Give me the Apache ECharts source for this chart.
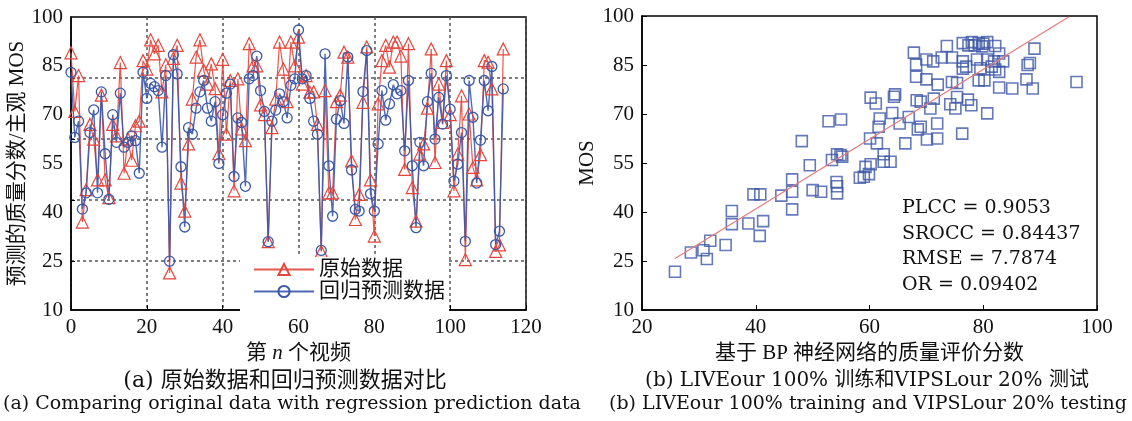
<!DOCTYPE html>
<html><head><meta charset="utf-8">
<script src="https://cdn.jsdelivr.net/npm/echarts@6/dist/echarts.min.js"></script>
<style>html,body{margin:0;padding:0;background:#fff}#c{width:1132px;height:421px}</style>
</head><body><div id="c"></div>
<script>
// ---- Left chart data (index = array position) ----
const originalMOS = [89,71,82,37,47,67,62.5,50,76,50,44.5,67,63.5,86,52,62.5,56,66.6,68,86.6,
84,93,88.7,91.3,77,85.3,21.4,87.3,91.3,49,40.4,61,74.8,87.7,93,83.6,79.4,85.6,78,58,
87,64,80.5,46.6,81,65.6,62,91.8,85,85,73,70,31,66,74.8,92.3,84,74,92.3,85,
93.8,79.4,82,76.9,77,67,28,77.4,46,46,74,76,89.2,87.7,55.8,37.8,45.5,73.8,90.8,50,
32.7,73.3,86.6,91.3,84.6,92.3,92.3,88,53.2,91.8,47.6,37.3,57.9,61,72,90.2,55.3,79.4,67.6,86.6,
70,46.6,57.9,75.8,25.5,70.2,53.8,50,57.7,86.6,86.1,77.9,28,30,90.2];
const predictedMOS = [83,63,68,41,46,64.5,71.5,46,77,58,44,70,61.5,76.6,60,61.5,63.5,62,52,83,
75,79.6,78.6,77.4,60,82,25,88.4,82.5,54,35.5,66,64,72,77,80.5,72,68,74,55,
70,76.6,79.4,51,69,67.6,48,81,82,88,77.4,71,31,68,71.4,76.4,74,69,79,81,
96,81,82,75,68,64,28.3,88.7,54.3,38.8,68.6,74.3,67.3,87.7,53,40.9,40.4,77.1,89.7,45.7,
40.4,61,77.4,68.3,73.3,79.2,76.4,77.4,58.9,80.5,54.3,35.3,61.5,54.3,74,82.7,62.5,75.3,67.1,82,
71.7,49.6,54.8,64.5,31.1,80.5,69.2,49,62.2,80.5,71.2,84.8,30.1,34.2,77.9];
const leftYTicks = [10,25,40,55,70,85,100];
const leftInnerTicks = [25,43.75,62.5,81.25];

// ---- Right chart data ----
const bpScore = [25.8,28.6,30.8,31.4,32.0,34.7,35.8,35.8,38.7,39.6,40.8,40.7,41.3,44.5,46.4,46.4,46.4,49.5,50.0,51.5,
53.4,54.2,54.3,54.3,58.3,54.9,54.3,48.1,52.8,55.0,55.2,59.3,62.5,63.7,62.5,59.0,59.9,60.2,60.1,61.3,
66.3,70.1,71.9,76.3,69.0,68.5,61.8,61.6,65.3,64.0,66.9,71.9,70.7,74.2,75.1,75.4,77.3,77.9,80.7,60.2,
61.1,64.5,64.3,68.3,69.0,71.3,67.8,68.2,68.2,70.0,71.2,70.0,72.0,72.7,73.6,74.5,74.5,75.4,76.4,76.4,
76.4,77.4,78.0,79.2,79.8,80.7,82.1,78.9,79.2,80.2,80.7,81.9,82.8,83.5,82.1,82.8,82.8,85.1,87.6,88.2,
89.0,88.7,96.4,78.5,80.0,77.0,79.5,81.5,87.8];
const subjectiveMOS = [21.7,27.6,28.3,25.6,31.2,29.9,40.3,36.3,36.5,45.4,45.4,32.7,37.2,45.0,50.0,46.2,40.8,54.3,46.7,46.2,
55.9,49.2,47.9,45.7,50.5,57.4,57.7,61.7,67.8,68.3,56.9,53.8,55.4,55.4,57.7,50.8,51.6,54.6,62.5,61.0,
61.0,62.2,62.5,64.0,66.1,65.3,68.6,66.1,67.1,70.3,69.1,67.1,71.7,73.0,71.7,75.2,74.4,72.7,70.2,75.0,
73.2,76.0,75.3,74.2,73.8,74.7,88.8,85.1,81.4,86.7,86.1,80.6,79.0,87.3,90.8,87.3,79.8,79.5,91.7,86.1,
83.9,91.0,92.0,91.7,90.7,92.0,90.8,86.7,80.3,80.3,86.7,86.1,88.5,86.1,83.6,82.9,78.1,77.8,80.6,85.6,
90.0,77.8,79.8,91.0,91.5,84.5,84.0,84.5,85.0];
const fitX = [25.8, 95.0];
const fitY = [25.8, 99.7];
const statsText = ['PLCC = 0.9053','SROCC = 0.84437','RMSE = 7.7874','OR = 0.09402'];

const SERIF = "'Liberation Serif','Noto Sans CJK SC',serif";
const WIDE = "'DejaVu Serif','Noto Sans CJK SC',serif";
const FS = 20;
const RED = '#e5463c', BLUE = '#3b59a8';

const chart = echarts.init(document.getElementById('c'), null, {renderer:'canvas'});
const axisLineStyle = {show:true, lineStyle:{color:'#000', width:1.5}};
const labelStyle = {color:'#111', fontFamily:SERIF, fontSize:FS+1};

const option = {
  backgroundColor:'#fff',
  animation:false,
  grid:[
    {left:71, top:17, width:455, height:293, show:true, borderColor:'#000', borderWidth:1.5, backgroundColor:'transparent'},
    {left:642, top:16, width:455, height:294, show:true, borderColor:'#000', borderWidth:1.5, backgroundColor:'transparent'}
  ],
  xAxis:[
    {type:'value', gridIndex:0, min:0, max:120, interval:20,
     axisLine:axisLineStyle, axisTick:{show:true, inside:true, length:5, lineStyle:{color:'#000'}},
     axisLabel:Object.assign({margin:7}, labelStyle),
     splitLine:{show:true, lineStyle:{color:'#555', type:[3,3], width:1.5}},
     name:'第 {i|n} 个视频', nameLocation:'middle', nameGap:30,
     nameTextStyle:{color:'#111', fontFamily:SERIF, fontSize:FS+1,
       rich:{i:{fontStyle:'italic', fontFamily:SERIF, fontSize:FS+1, color:'#111'}}}},
    {type:'value', gridIndex:1, min:20, max:100, interval:20,
     axisLine:axisLineStyle, axisTick:{show:true, inside:true, length:5, lineStyle:{color:'#000'}},
     axisLabel:Object.assign({margin:7}, labelStyle),
     splitLine:{show:false},
     name:'基于 BP 神经网络的质量评价分数', nameLocation:'middle', nameGap:30,
     nameTextStyle:{color:'#111', fontFamily:SERIF, fontSize:FS+1}}
  ],
  yAxis:[
    {type:'value', gridIndex:0, min:10, max:100, interval:15,
     axisLine:axisLineStyle,
     axisTick:{show:true, inside:true, length:4, customValues:leftInnerTicks, lineStyle:{color:'#000'}},
     axisLabel:Object.assign({margin:8, customValues:leftYTicks}, labelStyle),
     splitLine:{show:true, lineStyle:{color:'#555', type:[3,3], width:1.5}},
     name:'预测的质量分数/主观 MOS', nameLocation:'middle', nameGap:42, nameRotate:90,
     nameTextStyle:{color:'#111', fontFamily:SERIF, fontSize:FS+1}},
    {type:'value', gridIndex:1, min:10, max:100, interval:15,
     axisLine:axisLineStyle, axisTick:{show:true, inside:true, length:5, lineStyle:{color:'#000'}},
     axisLabel:Object.assign({margin:8}, labelStyle),
     splitLine:{show:false},
     name:'MOS', nameLocation:'middle', nameGap:44, nameRotate:90,
     nameTextStyle:{color:'#111', fontFamily:SERIF, fontSize:FS+1}}
  ],
  legend:{
    left:240, top:257, orient:'vertical', itemGap:1, itemWidth:60, itemHeight:14,
    backgroundColor:'#fff', padding:[2,4,9,13],
    textStyle:{color:'#111', fontFamily:SERIF, fontSize:FS+1},
    data:['原始数据','回归预测数据']
  },
  series:[
    {name:'原始数据', type:'line', xAxisIndex:0, yAxisIndex:0,
     data: originalMOS.map((v,i)=>[i,v]),
     symbol:'triangle', symbolSize:12,
     lineStyle:{color:RED, width:1.2, opacity:0.9},
     itemStyle:{color:'rgba(255,255,255,0)', borderColor:RED, borderWidth:1.2}},
    {name:'回归预测数据', type:'line', xAxisIndex:0, yAxisIndex:0,
     data: predictedMOS.map((v,i)=>[i,v]),
     symbol:'circle', symbolSize:10,
     lineStyle:{color:BLUE, width:1.4, opacity:0.9},
     itemStyle:{color:'rgba(255,255,255,0)', borderColor:BLUE, borderWidth:1.3}},
    {name:'fit', type:'line', xAxisIndex:1, yAxisIndex:1,
     data: fitX.map((x,i)=>[x, fitY[i]]), symbol:'none',
     lineStyle:{color:'#e87a7a', width:1.2}},
    {name:'scatter', type:'scatter', xAxisIndex:1, yAxisIndex:1,
     data: bpScore.map((x,i)=>[x, subjectiveMOS[i]]),
     symbol:'rect', symbolSize:11,
     itemStyle:{color:'rgba(255,255,255,0)', borderColor:'#3d58a6', borderWidth:1.6, opacity:0.8}}
  ],
  graphic:[
    ...statsText.map((t,i)=>({type:'text', x:902, y:208 + i*25.7,
      style:{text:t, font:`19px ${WIDE}`, fill:'#111', textVerticalAlign:'middle'}})),
    {type:'text', x:285, y:381, style:{text:'(a) 原始数据和回归预测数据对比', font:`22px ${WIDE}`, fill:'#111', textAlign:'center', textVerticalAlign:'middle'}},
    {type:'text', x:292, y:404, style:{text:'(a) Comparing original data with regression prediction data', font:`19px ${WIDE}`, fill:'#111', textAlign:'center', textVerticalAlign:'middle'}},
    {type:'text', x:867, y:381, style:{text:'(b) LIVEour 100% 训练和VIPSLour 20% 测试', font:`20px ${WIDE}`, fill:'#111', textAlign:'center', textVerticalAlign:'middle'}},
    {type:'text', x:868, y:404, style:{text:'(b) LIVEour 100% training and VIPSLour 20% testing', font:`19px ${WIDE}`, fill:'#111', textAlign:'center', textVerticalAlign:'middle'}}
  ]
};
chart.setOption(option);
</script></body></html>
